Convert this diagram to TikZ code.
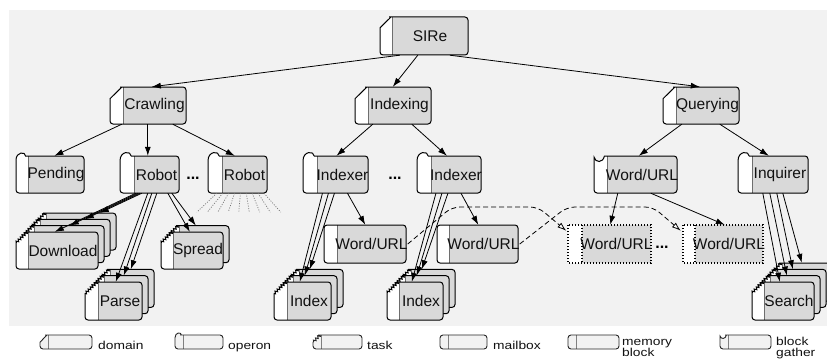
\documentclass[tikz,border=0pt]{standalone}
\usepackage{fontspec}
\setmainfont{Liberation Sans}
\usetikzlibrary{arrows.meta,decorations.pathmorphing,calc}
\definecolor{bg}{HTML}{F2F2F2}
\definecolor{boxgray}{HTML}{D9D9D9}
\definecolor{divcol}{HTML}{6E6E6E}
\definecolor{txt}{HTML}{111111}
\definecolor{legfill}{HTML}{F2F2F2}

% top-left part of the left strip, from (xG,yT) to the left edge
\newcommand\TLdomain[3]{-- ({#2-1},#3) -- (#1,{#3+0.9*(#2-#1)})}
\newcommand\TLoperon[3]{-- ({#1+0.8*(#2-#1)},#3) .. controls ({#1+0.8*(#2-#1)},{#3-0.38*(#2-#1)}) and (#1,{#3-0.38*(#2-#1)}) .. (#1,{#3+0.35*(#2-#1)})}
\newcommand\TLtask[3]{-- ({#2-1},#3) decorate[decoration={zigzag,segment length=3pt,amplitude=1.2pt}] {-- (#1,{#3+0.9*(#2-#1)})}}
\newcommand\TLmail[3]{[rounded corners=3pt] -- (#1,#3)}
\newcommand\TLgather[3]{-- ({#1+0.8*(#2-#1)},#3) .. controls ({#1+0.7*(#2-#1)},{#3+0.55*(#2-#1)}) and ({#1+0.1*(#2-#1)},{#3+0.55*(#2-#1)}) .. (#1,{#3+1})}

\newcommand\shapepath[6]{(#3,#5) [sharp corners] #1{#2}{#3}{#5} [rounded corners=3pt] -- (#2,#6) -- (#4,#6) -- (#4,#5) -- cycle}

% #1 TL shape, #2 name, #3 xL, #4 xG, #5 xR, #6 yT, #7 yB, #8 text
\newcommand\gnode[8]{%
  \pgfmathsetmacro\gxL{#3}\pgfmathsetmacro\gxG{#4}\pgfmathsetmacro\gxR{#5}%
  \pgfmathsetmacro\gyT{#6}\pgfmathsetmacro\gyB{#7}%
  \path[gstrip] \shapepath{#1}{\gxL}{\gxG}{\gxR}{\gyT}{\gyB};
  \begin{scope}
    \clip \shapepath{#1}{\gxL}{\gxG}{\gxR}{\gyT}{\gyB};
    \path[gfill] (\gxG,\gyT) rectangle (\gxR,\gyB);
  \end{scope}
  \draw[gdiv] (\gxG,\gyT) -- (\gxG,\gyB);
  \draw[gout] \shapepath{#1}{\gxL}{\gxG}{\gxR}{\gyT}{\gyB};
  \node[glabel, minimum width={(\gxR-\gxG)*1pt}, minimum height={(\gyB-\gyT)*1pt}] (#2) at ({(\gxG+\gxR)/2},{(\gyT+\gyB)/2}) {#8};
}

% stack of task cards: #1 prefix, #2 count, #3..#7 front geometry, #8 text
\newcommand\stack[8]{%
  \foreach \sj in {1,...,#2}{%
    \pgfmathtruncatemacro\stk{#2-\sj}%
    \ifnum\stk=0 \def\stxt{#8}\else\def\stxt{}\fi
    \gnode{\TLtask}{#1\stk}{#3+6*\stk}{#4+6*\stk}{#5+6*\stk}{#6-6.3*\stk}{#7-6.3*\stk}{\stxt}%
  }%
}

% dotted memory block: #1 name, #2 xL, #3 xG, #4 xR, #5 yT, #6 yB, #7 text
\newcommand\mnode[7]{%
  \fill[white] (#2,#5) rectangle (#4,#6);
  \fill[boxgray] (#3,#5) rectangle (#4,#6);
  \draw[mdot] (#3,#5) -- (#3,#6);
  \draw[mdot] (#2,#5) rectangle (#4,#6);
  \node[glabel, minimum width={(#4-#3)*1pt}, minimum height={(#6-#5)*1pt}] (#1) at ({(#3+#4)/2},{(#5+#6)/2}) {#7};
}

\newcommand\lgt[1]{\scalebox{1.2}[1]{#1}}

\tikzset{
  gstrip/.style={fill=white},
  gfill/.style={fill=boxgray},
  gdiv/.style={draw=divcol, line width=0.9pt},
  gout/.style={draw=black, line width=1pt},
  glabel/.style={inner sep=0pt, text=txt, font=\fontsize{15.5}{18}\selectfont},
  dotlabel/.style={inner sep=0pt, text=black, font=\fontsize{16}{18}\selectfont\bfseries},
  mdot/.style={draw=black, line width=1.1pt, dash pattern=on 1.1pt off 1.9pt},
  arr/.style={-{Latex[length=9pt,width=6pt]}, line width=0.8pt},
  dsh/.style={-{Latex[length=9pt,width=6pt,fill=white]}, line width=0.8pt, dash pattern=on 5pt off 3pt, rounded corners=8pt},
  fan/.style={draw=gray!90!black, line width=0.7pt, dash pattern=on 1pt off 1.5pt},
  legtext/.style={inner sep=0pt, anchor=base west, text=txt, font=\fontsize{11.5}{11}\selectfont},
}

\begin{document}
\begin{tikzpicture}[x=1pt,y=-1pt]
\useasboundingbox (0,0) rectangle (827,361);
\fill[bg] (9,10) rectangle (827,326);

% level 0/1
\gnode{\TLdomain}{sire}{380}{392}{468}{17}{55}{SIRe}
\gnode{\TLdomain}{crawl}{110}{123}{186}{87}{124}{Crawling}
\gnode{\TLdomain}{index}{355}{368}{431}{87}{124}{Indexing}
\gnode{\TLdomain}{query}{663}{676}{739}{87}{124}{Querying}

% level 2
\gnode{\TLoperon}{pend}{16}{28}{84}{156}{193}{Pending}
\gnode{\TLoperon}{rob1}{120}{134}{179}{156}{193}{Robot}
\gnode{\TLoperon}{rob2}{208}{222}{267}{156}{193}{Robot}
\gnode{\TLoperon}{ixr1}{303}{317}{368}{156}{193}{Indexer}
\gnode{\TLoperon}{ixr2}{417}{431}{481}{156}{193}{Indexer}
\gnode{\TLgather}{wq}{594}{607}{677}{156}{193}{Word/URL}
\gnode{\TLoperon}{inq}{738}{752}{808}{156}{193}{Inquirer}
\node[dotlabel] (dots1) at (193,178) {...};
\node[dotlabel] (dots2) at (395,178) {...};

% mailboxes and memory blocks
\gnode{\TLmail}{w1}{324}{337}{406}{225}{263}{Word/URL}
\gnode{\TLmail}{w2}{437}{449}{518}{225}{263}{Word/URL}
\mnode{m1}{568}{582}{651}{225}{263}{Word/URL}
\mnode{m2}{683}{695}{763}{225}{263}{Word/URL}
\node[dotlabel] (dots3) at (662,247) {...};

% task stacks
\stack{dl}{4}{16}{28}{98}{232}{269}{Download}
\stack{sp}{2}{161}{173}{223}{232}{269}{Spread}
\stack{pa}{3}{85}{98}{142}{282}{320}{Parse}
\stack{ia}{3}{274}{287}{331}{282}{320}{Index}
\stack{ib}{3}{387}{399}{443}{282}{320}{Index}
\stack{sr}{4}{752}{764}{814}{282}{320}{Search}

% connectors
\draw[arr] ([xshift=8pt]sire.south west) -- ([xshift=29pt]crawl.north west);
\draw[arr] ([xshift=26pt]sire.south west) -- ([xshift=25pt]index.north west);
\draw[arr] ([xshift=58pt]sire.south west) -- ([xshift=24pt]query.north west);
\draw[arr] ([xshift=-1pt]crawl.south west) -- ([xshift=27pt]pend.north west);
\draw[arr] ([xshift=25pt]crawl.south west) -- ([xshift=14pt]rob1.north west);
\draw[arr] ([xshift=50pt]crawl.south west) -- ([xshift=13pt]rob2.north west);
\draw[arr] ([xshift=5pt]index.south west) -- ([xshift=20pt]ixr1.north west);
\draw[arr] ([xshift=44pt]index.south west) -- ([xshift=17pt]ixr2.north west);
\draw[arr] ([xshift=6pt]query.south west) -- ([xshift=33pt]wq.north west);
\draw[arr] ([xshift=44pt]query.south west) -- ([xshift=17pt]inq.north west);

\foreach \ka/\sa/\ta in {0/2/27,1/4/36,2/6/45,3/8/54}
  \draw[arr] ([xshift=\sa pt]rob1.south west) -- ([xshift=\ta pt]dl\ka.north west);
\foreach \ka/\sa/\ta in {0/14/18,1/18/20,2/23/21}
  \draw[arr] ([xshift=\sa pt]rob1.south west) -- ([xshift=\ta pt]pa\ka.north west);
\foreach \ka/\sa/\ta in {0/34/17,1/38/17}
  \draw[arr] ([xshift=\sa pt]rob1.south west) -- ([xshift=\ta pt]sp\ka.north west);
\foreach \ka/\sa/\ta in {0/6/13,1/12/12,2/18/11}{
  \draw[arr] ([xshift=\sa pt]ixr1.south west) -- ([xshift=\ta pt]ia\ka.north west);
  \draw[arr] ([xshift=\sa pt]ixr2.south west) -- ([xshift=\ta pt]ib\ka.north west);
}
\foreach \ka/\sa/\ta in {0/11/16,1/18/17,2/25/17,3/31/20}
  \draw[arr] ([xshift=\sa pt]inq.south west) -- ([xshift=\ta pt]sr\ka.north west);

\draw[arr] ([xshift=31pt]ixr1.south west) -- ([xshift=30pt]w1.north west);
\draw[arr] ([xshift=31pt]ixr2.south west) -- ([xshift=31pt]w2.north west);
\draw[arr] ([xshift=12pt]wq.south west) -- ([xshift=30pt]m1.north west);
\draw[arr] ([xshift=45pt]wq.south west) -- ([xshift=32pt]m2.north west);

\foreach \q in {0,...,8}
  \draw[fan] ([xshift={(-5+5.9*\q)*1pt}]rob2.south west) -- ([xshift={(-25+10.5*\q)*1pt},yshift=-19pt]rob2.south west);

\draw[dsh] (w1.east) -- (452,207) -- (538,207) -- ([xshift=-14pt,yshift=-6pt]m1.north west);
\draw[dsh] (w2.east) -- (567,207) -- (653,207) -- ([xshift=-12pt,yshift=-6pt]m2.north west);

% legend
\begin{scope}[gstrip/.style={fill=legfill}, gfill/.style={fill=legfill},
  gdiv/.style={draw=gray, line width=0.8pt}, gout/.style={draw=black!85, line width=0.9pt}]
\gnode{\TLdomain}{lg1}{40}{48}{92}{335}{349}{}
\gnode{\TLoperon}{lg2}{175}{183}{223}{335}{349}{}
\gnode{\TLtask}{lg3}{313}{321}{362}{335}{349}{}
\gnode{\TLmail}{lg4}{440}{448}{487}{335}{349}{}
\gnode{\TLmail}{lg5}{568}{576}{619}{335}{349}{}
\gnode{\TLgather}{lg6}{720}{728}{771}{335}{349}{}
\end{scope}
\node[legtext] (lt1) at (98,349) {\lgt{domain}};
\node[legtext] (lt2) at (228,349) {\lgt{operon}};
\node[legtext] (lt3) at (367,349) {\lgt{task}};
\node[legtext] (lt4) at (493,349) {\lgt{mailbox}};
\node[legtext] (lt5) at (622,356) {\rlap{\raisebox{11pt}{\lgt{memory}}}\lgt{block}};
\node[legtext] (lt6) at (776,356) {\rlap{\raisebox{11pt}{\lgt{block}}}\lgt{gather}};
\end{tikzpicture}
\end{document}
